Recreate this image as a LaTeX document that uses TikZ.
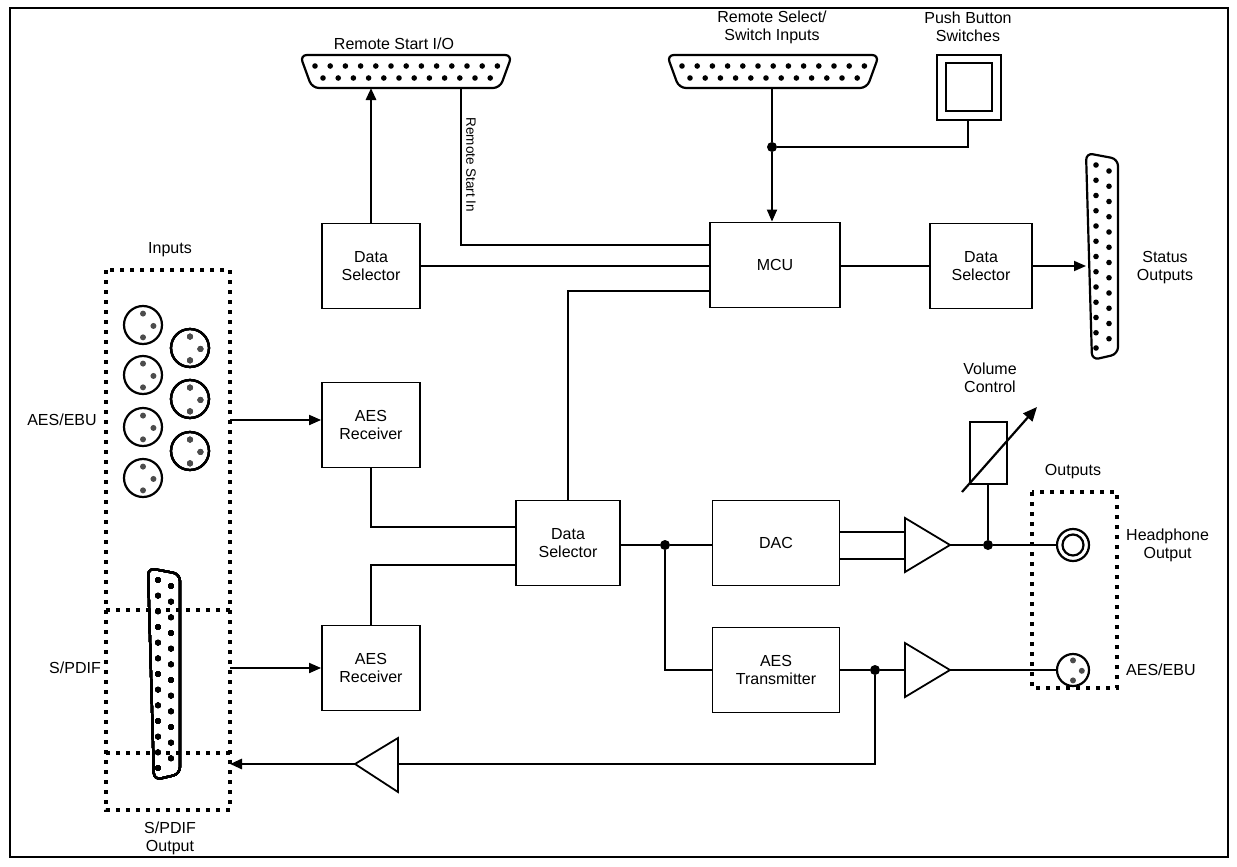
\documentclass[tikz,border=0pt]{standalone}
\usepackage{fontspec}
\setmainfont{Liberation Sans}
\usetikzlibrary{arrows.meta,calc}
\begin{document}
\begin{tikzpicture}[x=1pt,y=-1pt,
  font=\fontsize{16}{18}\selectfont,
  box/.style={draw,line width=1.8pt,minimum width=98pt,minimum height=85pt,align=center,inner sep=0pt},
  wire/.style={line width=1.8pt},
  thick wire/.style={line width=2.8pt},
  arr/.style={-{Triangle[length=12pt,width=10pt]}},
  dotted box/.style={line width=3.2pt,dash pattern=on 4pt off 6pt},
  jdot/.style={circle,fill,inner sep=0pt,minimum size=10pt},
  lbl/.style={align=center,inner sep=0pt},
  pin/.style={fill=black!70}]
\useasboundingbox (0,0) rectangle (1237,867);
\draw[line width=1.6pt] (10,8) rectangle (1228,857);
\newcommand\hdb[2]{%
  \draw[line width=2.2pt,rounded corners=7pt] (#1,#2) -- (#1+212,#2) -- (#1+200,#2+33) -- (#1+12,#2+33) -- cycle;
  \foreach \i in {0,...,12} \fill (#1+15+\i*15.2,#2+11) circle (2.8pt);
  \foreach \i in {0,...,11} \fill (#1+23+\i*15.2,#2+23) circle (2.8pt);}
\newcommand\vdb[3]{% x, ytop, ybottom
  \draw[line width=2.2pt,rounded corners=7pt] (#1,#2) -- (#1+32,#2+6) -- (#1+32,#3-6) -- (#1+6,#3) -- cycle;
  \foreach \i in {0,...,12} \fill (#1+10,{#2+12+\i*(#3-#2-24)/12}) circle (2.8pt);
  \foreach \i in {0,...,11} \fill (#1+23,{#2+18+\i*(#3-#2-24)/12}) circle (2.8pt);}
\newcommand\xlr[3]{% x y r
  \draw[line width=2.2pt] (#1,#2) circle (#3pt);
  \fill[pin] (#1,#2-0.6*#3) circle (3pt);
  \fill[pin] (#1+0.55*#3,#2+0.05*#3) circle (3pt);
  \fill[pin] (#1,#2+0.65*#3) circle (3pt);}
% connectors
\hdb{300}{55}
\node[lbl] (rsio) at (394,44) {Remote Start I/O};
\coordinate (rsioA) at (371,88);
\coordinate (rsioB) at (461,88);
\hdb{667}{55}
\node[lbl] (rsel) at (772,27) {Remote Select/\\Switch Inputs};
\coordinate (rselB) at (772,88);
\draw[line width=2.2pt] (937,55) rectangle (1001,120);
\draw[line width=2.2pt] (946,63) rectangle (992,111);
\coordinate (pbB) at (968,120);
\node[lbl] (pb) at (968,27) {Push Button\\Switches};
\vdb{1086}{153}{360}
\coordinate (stat) at (1086,266);
\node[lbl] (statl) at (1165,268) {Status\\Outputs};
% boxes
\node[box] (ds1) at (371,266) {Data\\Selector};
\node[box,minimum width=130pt] (mcu) at (775,265) {MCU};
\node[box,minimum width=102pt] (ds2) at (981,266) {Data\\Selector};
\node[box] (rx1) at (371,425) {AES\\Receiver};
\node[box,minimum width=104pt] (ds3) at (568,543) {Data\\Selector};
\node[box,minimum width=127pt] (dac) at (776,543) {DAC};
\node[box] (rx2) at (371,668) {AES\\Receiver};
\node[box,minimum width=127pt] (tx) at (776,670) {AES\\Transmitter};
% inputs box
\draw[dotted box] (106,270) rectangle (230,810);
\draw[dotted box] (106,610) -- (230,610);
\draw[dotted box] (106,753) -- (230,753);
\node[lbl] (inl) at (170,250) {Inputs};
\node[lbl] (spo) at (170,838) {S/PDIF\\Output};
\node[lbl] (aesl) at (62,420) {AES/EBU};
\node[lbl] (spl) at (75,668) {S/PDIF};
\foreach \y in {325,375,427,478} \xlr{143}{\y}{19}
\foreach \y in {348,399,451} \xlr{190}{\y}{19}
\vdb{148}{568}{780}
\coordinate (in1) at (230,420);
\coordinate (in2) at (230,668);
\coordinate (inO) at (230,764);
% outputs box
\draw[dotted box] (1032,492) rectangle (1117,688);
\node[lbl] (outl) at (1073,472) {Outputs};
\draw[line width=2.2pt] (1073,545) circle (16pt);
\draw[line width=2.2pt] (1073,545) circle (10.5pt);
\coordinate (hp) at (1057,545);
\node[lbl,anchor=west] (hpl) at (1126,545) {Headphone\\Output};
\xlr{1073}{670}{16}
\coordinate (xo) at (1057,670);
\node[lbl,anchor=west] (aeso) at (1126,670) {AES/EBU};
% amplifiers
\draw[line width=1.8pt] (905,518) -- (950,545) -- (905,572) -- cycle;
\coordinate (a1in1) at (905,532); \coordinate (a1in2) at (905,559); \coordinate (a1o) at (950,545);
\draw[line width=1.8pt] (905,643) -- (950,670) -- (905,697) -- cycle;
\coordinate (a2i) at (905,670); \coordinate (a2o) at (950,670);
\draw[line width=1.8pt] (398,738) -- (355,764) -- (398,792) -- cycle;
\coordinate (a3i) at (398,764); \coordinate (a3o) at (355,764);
% volume
\draw[line width=2.2pt] (970,422) rectangle (1007,484);
\coordinate (volB) at (988,484);
\draw[line width=2.2pt,-{Triangle[length=14pt,width=12pt]}] (962,492) -- (1037,407);
\node[lbl] (voll) at (990,378) {Volume\\Control};
% junctions
\node[jdot] (j1) at (772,147) {};
\node[jdot] (j2) at (665,545) {};
\node[jdot] (j3) at (988,545) {};
\node[jdot] (j4) at (875,670) {};
% wires
\draw[thick wire,arr] (ds1.north) -- (rsioA);
\draw[wire] (rsioB) |- (mcu.west |- 0,245);
\node[rotate=-90,anchor=west,font=\fontsize{13.5}{15}\selectfont] (rsin) at (471,114) {Remote Start In};
\draw[wire] (ds1.east) -- (mcu.west |- ds1.east);
\draw[wire] (ds3.north) |- (mcu.west |- 0,291);
\draw[wire] (rselB) -- (j1);
\draw[wire,arr] (j1) -- (mcu.north -| j1);
\draw[wire] (pbB) |- (j1);
\draw[wire] (mcu.east |- ds2.west) -- (ds2.west);
\draw[wire,arr] (ds2.east) -- (stat);
\draw[wire,arr] (in1) -- (rx1.west |- in1);
\draw[wire,arr] (in2) -- (rx2.west);
\draw[wire] (rx1.south) |- (ds3.west |- 0,527);
\draw[wire] (rx2.north) |- (ds3.west |- 0,565);
\draw[wire] (ds3.east |- j2) -- (j2) -- (dac.west |- j2);
\draw[wire] (j2) |- (tx.west);
\draw[wire] (dac.east |- a1in1) -- (a1in1);
\draw[wire] (dac.east |- a1in2) -- (a1in2);
\draw[wire] (a1o) -- (j3) -- (hp);
\draw[wire] (volB) -- (j3);
\draw[wire] (tx.east) -- (j4) -- (a2i);
\draw[wire] (a2o) -- (xo);
\draw[wire] (j4) |- (a3i);
\draw[thick wire,arr] (a3o) -- (inO);
\end{tikzpicture}
\end{document}
